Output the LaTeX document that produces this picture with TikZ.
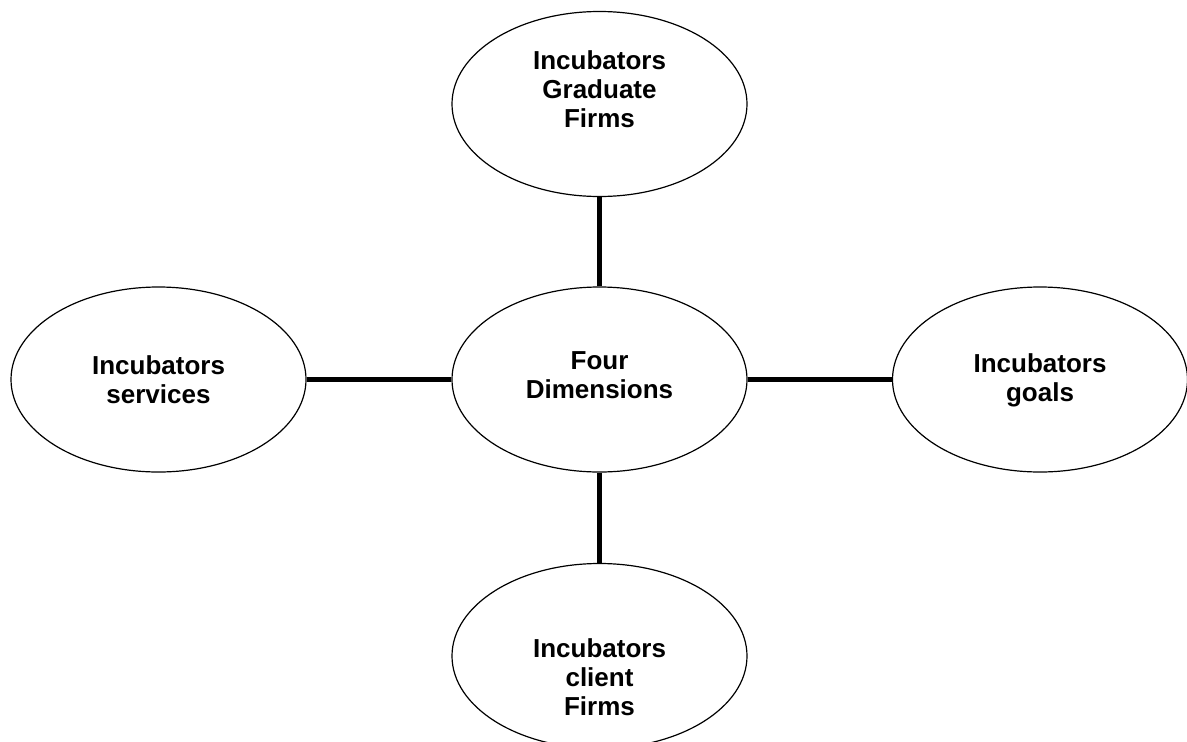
\documentclass[tikz,border=0pt]{standalone}
\usepackage{fontspec}
\setmainfont{Liberation Sans}
\usetikzlibrary{shapes.geometric}

\begin{document}
\begin{tikzpicture}[x=1pt, y=-1pt]
\tikzset{bubble/.style = {ellipse, draw, line width=1.2pt, minimum width=295pt, minimum height=185pt, inner sep=0pt}}
\tikzset{bubble text/.style = {align=center, inner sep=0pt, font=\fontsize{26}{29}\selectfont\bfseries}}
\tikzset{edge/.style = {line width=5pt}}

\useasboundingbox (0,0) rectangle (1187,742);

% the four dimensions around the core
\node[bubble] (core) at (599.5, 379.5) {};
\node[bubble] (grad) at (599.5, 104) {};
\node[bubble] (serv) at (158.5, 379.5) {};
\node[bubble] (goal) at (1040, 379.5) {};
\node[bubble] (client) at (599.5, 656) {};

\node[bubble text] (core text) at (599.5, 375) {Four\\Dimensions};
\node[bubble text] (grad text) at (599.5, 89) {Incubators\\Graduate\\Firms};
\node[bubble text] (serv text) at (158.5, 380) {Incubators\\services};
\node[bubble text] (goal text) at (1040, 380) {Incubators\\goals};
\node[bubble text] (client text) at (599.5, 677) {Incubators\\client\\Firms};

\foreach \n in {grad, serv, goal, client}
   {\draw[edge] (core) -- (\n);}

\end{tikzpicture}
\end{document}
